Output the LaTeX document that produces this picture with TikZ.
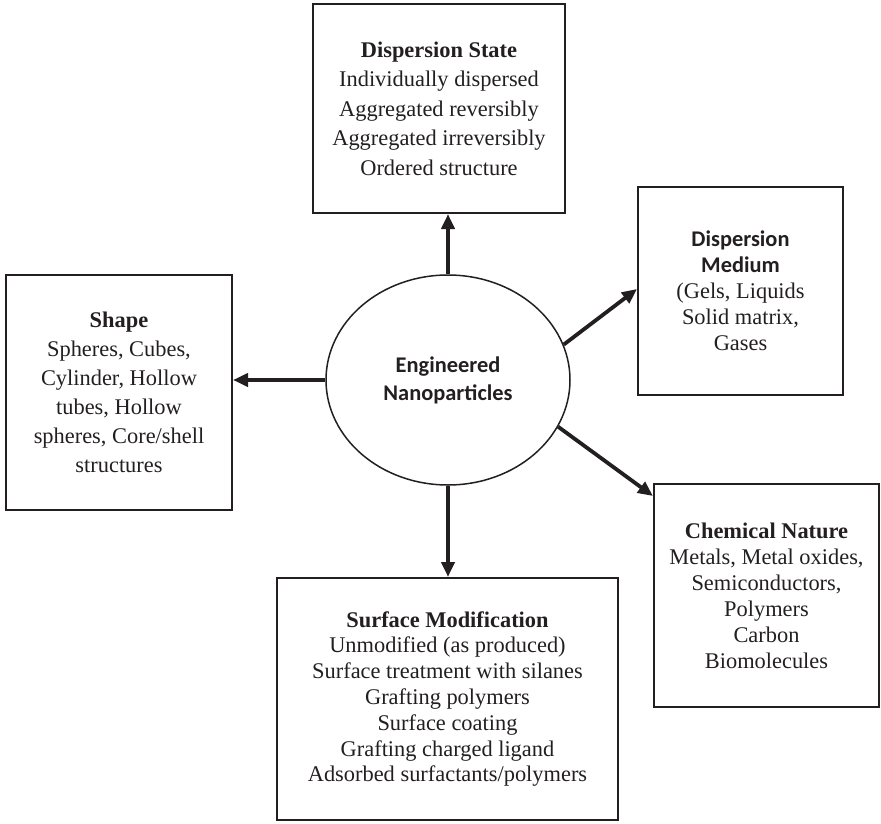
\documentclass[tikz,border=0pt]{standalone}
\usepackage{fontspec}
\setmainfont{Liberation Serif}
\newfontfamily\calib{Carlito}
\usetikzlibrary{shapes.geometric,arrows.meta}
\definecolor{ink}{HTML}{231F20}
\begin{document}
\begin{tikzpicture}[x=1pt,y=-1pt,
  box/.style={draw=ink,line width=2pt,align=center,inner sep=0pt,text=ink,
    font=\fontsize{22.4}{26}\selectfont},
  conn/.style={draw=ink,line width=3.8pt,-{Triangle[length=15pt,width=13pt]}}]
\useasboundingbox (0,0) rectangle (881,824);
\node[draw=ink,line width=1.5pt,ellipse,minimum width=244pt,minimum height=210pt,inner sep=0pt,
  align=center,text=ink,font=\calib\bfseries\fontsize{22.4}{28}\selectfont] (e) at (448,380)
  {Engineered\\Nanoparticles};
\node[box,minimum width=252pt,minimum height=209pt,font=\fontsize{22.4}{29.5}\selectfont] (ds) at (439,108.5)
  {\textbf{Dispersion State}\\Individually dispersed\\Aggregated reversibly\\Aggregated irreversibly\\Ordered structure};
\node[box,minimum width=205pt,minimum height=208pt] (dm) at (740.5,291)
  {{\calib\bfseries Dispersion}\\{\calib\bfseries Medium}\\(Gels, Liquids\\Solid matrix,\\Gases};
\node[box,minimum width=226pt,minimum height=235pt,font=\fontsize{22.4}{29}\selectfont] (sh) at (119,392.5)
  {\textbf{Shape}\\Spheres, Cubes,\\Cylinder, Hollow\\tubes, Hollow\\spheres, Core/shell\\structures};
\node[box,minimum width=225pt,minimum height=223pt] (cn) at (766.5,595.5)
  {\textbf{Chemical Nature}\\Metals, Metal oxides,\\Semiconductors,\\Polymers\\Carbon\\Biomolecules};
\node[box,minimum width=341pt,minimum height=242pt,font=\fontsize{22.4}{25.8}\selectfont] (sm) at (447.5,699)
  {\textbf{Surface Modification}\\Unmodified (as produced)\\Surface treatment with silanes\\Grafting polymers\\Surface coating\\Grafting charged ligand\\Adsorbed surfactants/polymers};
\draw[conn] (e.north) -- (e.north |- ds.south);
\draw[conn] (e.west) -- (e.west -| sh.east);
\draw[conn] (e.south) -- (e.south |- sm.north);
\draw[conn] (e.17) -- ([yshift=2pt]dm.west);
\draw[conn] (e.-23) -- ([yshift=-13pt]cn.north west);
\end{tikzpicture}
\end{document}
